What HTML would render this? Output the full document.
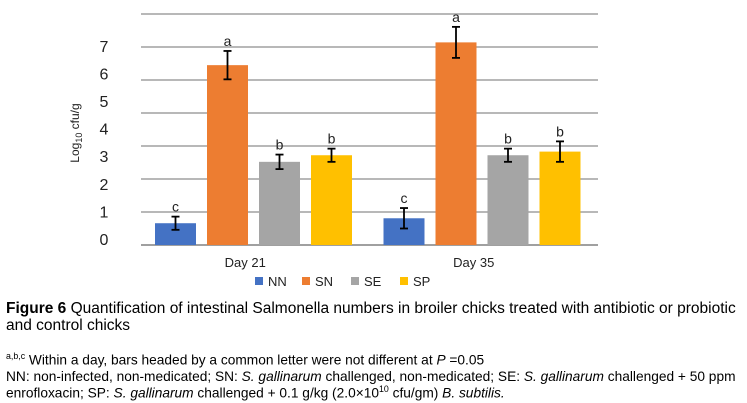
<!DOCTYPE html>
<html><head><meta charset="utf-8"><style>
body{margin:0;width:747px;height:403px;background:#fff;overflow:hidden;position:relative;font-family:"Liberation Sans",Arial,sans-serif}
.ln{position:absolute;left:6px;white-space:nowrap;transform-origin:0 0;color:#000}
.cap{font-size:15.5px;transform:scaleX(1.0)}
.fn{font-size:14px;transform:scaleX(0.98)}
</style></head><body>
<svg id="chart" width="747" height="295" style="position:absolute;left:0;top:0" font-family="Liberation Sans, Arial, sans-serif"></svg>
<div class="ln cap" style="top:300px"><b>Figure 6</b> Quantification of intestinal Salmonella numbers in broiler chicks treated with antibiotic or probiotic</div>
<div class="ln cap" style="top:317px">and control chicks</div>
<div class="ln fn" style="top:351px"><sup style="font-size:9px">a,b,c</sup> Within a day, bars headed by a common letter were not different at <i>P</i> =0.05</div>
<div class="ln fn" style="top:368px">NN: non-infected, non-medicated; SN: <i>S. gallinarum</i> challenged, non-medicated; SE: <i>S. gallinarum</i> challenged + 50 ppm</div>
<div class="ln fn" style="top:384px">enrofloxacin; SP: <i>S. gallinarum</i> challenged + 0.1 g/kg (2.0×10<sup style="font-size:9px">10</sup> cfu/gm) <i>B. subtilis.</i></div>
<script>
const categories=["Day 21","Day 35"];
const seriesNames=["NN","SN","SE","SP"];
const seriesColors=["#4472c4","#ed7d31","#a5a5a5","#ffc000"];
const nnValues=[0.66,0.81];
const snValues=[5.45,6.14];
const seValues=[2.52,2.72];
const spValues=[2.72,2.83];
const nnErr=[0.2,0.31];
const snErr=[0.43,0.47];
const seErr=[0.22,0.2];
const spErr=[0.2,0.31];
const nnLetters=["c","c"];
const snLetters=["a","a"];
const seLetters=["b","b"];
const spLetters=["b","b"];
const gridValues=[0,1,2,3,4,5,6,7];
const tickLabels=["0","1","2","3","4","5","6","7"];

const NS="http://www.w3.org/2000/svg";
const svg=document.getElementById('chart');
const base=245,unit=33,left=141,right=598;
const y=v=>base-v*unit;
const groupW=(right-left)/categories.length;
const x=(ci,si)=>left+ci*groupW+14+si*52;
const bw=41;
function mk(t,a){const e=document.createElementNS(NS,t);for(const k in a)e.setAttribute(k,a[k]);svg.appendChild(e);return e;}
gridValues.forEach((g,i)=>{
  const l=mk('line',{x1:left,x2:right,y1:y(g),y2:y(g),stroke:'#a0a0a0','stroke-width':i==0?2:1.6});
  
  
});
tickLabels.forEach((t,i)=>{
  const e=mk('text',{x:104,y:245-27.6*i,'font-size':16,fill:'#222','text-anchor':'middle'});
  e.textContent=t;
  
  
});
const yt=mk('text',{transform:'translate(79,133) rotate(-90)','font-size':12,'text-anchor':'middle',fill:'#222'});
yt.innerHTML='Log<tspan font-size="9" dy="3">10</tspan><tspan dy="-3"> cfu/g</tspan>';


const vals=[nnValues,snValues,seValues,spValues],errs=[nnErr,snErr,seErr,spErr],lets=[nnLetters,snLetters,seLetters,spLetters];
categories.forEach((c,ci)=>{
  vals.forEach((arr,si)=>{
    const v=arr[ci],e=errs[si][ci],bx=x(ci,si);
    const r=mk('rect',{x:bx,y:y(v),width:bw,height:base-y(v),fill:seriesColors[si]});
    
    
    const cx=bx+bw/2;
    const g=document.createElementNS(NS,'g');svg.appendChild(g);
    
    
    [[cx,cx,y(v+e),y(v-e)],[cx-4,cx+4,y(v+e),y(v+e)],[cx-4,cx+4,y(v-e),y(v-e)]].forEach(p=>{
      const l=document.createElementNS(NS,'line');
      l.setAttribute('x1',p[0]);l.setAttribute('x2',p[1]);l.setAttribute('y1',p[2]);l.setAttribute('y2',p[3]);
      l.setAttribute('stroke','#000');l.setAttribute('stroke-width',1.8);g.appendChild(l);
    });
    const t=mk('text',{x:cx,y:y(v+e)-5,'font-size':14,'text-anchor':'middle',fill:'#222'});
    t.textContent=lets[si][ci];
    
    
  });
  const ct=mk('text',{x:left+ci*groupW+groupW/2-10,y:267,'font-size':13,'text-anchor':'middle',fill:'#222'});
  ct.textContent=c;
  
  
});
const lx=[255,302,351,400];
seriesNames.forEach((n,i)=>{
  const r=mk('rect',{x:lx[i],y:277,width:8,height:8,fill:seriesColors[i]});
  
  
  const t=mk('text',{x:lx[i]+13,y:286,'font-size':13,fill:'#222'});
  t.textContent=n;
  
  
});
</script>
</body></html>
